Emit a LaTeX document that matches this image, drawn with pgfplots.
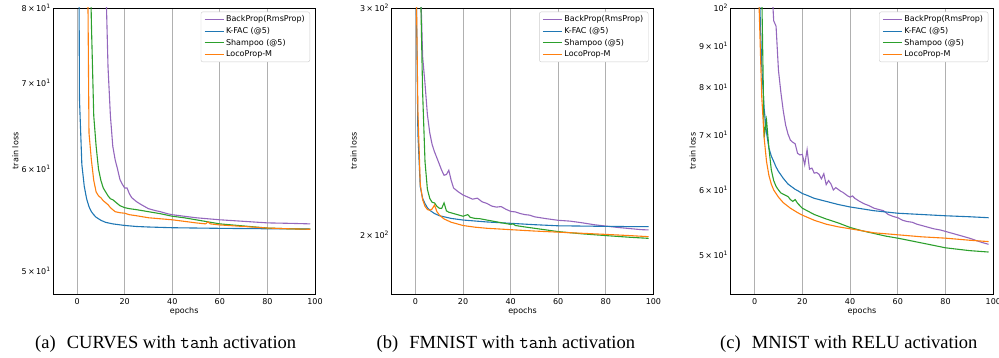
\documentclass[border=0pt]{standalone}
\usepackage{pgfplots}
\pgfplotsset{compat=1.18}
\usepackage{fontspec}
\setmainfont{DejaVu Sans}
\newfontfamily\capfont{Liberation Serif}
\definecolor{cP}{HTML}{9467BD}
\definecolor{cB}{HTML}{1F77B4}
\definecolor{cG}{HTML}{2CA02C}
\definecolor{cO}{HTML}{FF7F0E}
\definecolor{gridc}{RGB}{176,176,176}
\definecolor{legc}{RGB}{204,204,204}
\newcommand\sci[2]{#1\,×\,10\textsuperscript{#2}}
\pgfplotsset{
  myax/.style={
    scale only axis, width=261.7pt, height=286pt,
    anchor=south west,
    xmin=-10, xmax=100,
    xtick={0,20,40,60,80,100},
    xticklabels={0,20,40,60,80,100},
    tick style={draw=none},
    xmajorgrids, major grid style={gridc, line width=0.8pt},
    axis line style={black, line width=0.9pt},
    font=\fontsize{8}{9.6}\selectfont,
    xticklabel style={anchor=center, yshift=-7.7pt},
    yticklabel style={anchor=east, inner sep=0pt, xshift=-2.5pt},
    xlabel={epochs}, ylabel={train loss},
    every axis x label/.style={at={(axis description cs:0.5,-0.062)}, anchor=center},
    every axis y label/.style={at={(axis description cs:-0.1452,0.5)}, anchor=center, rotate=90},
    legend cell align=left,
  },
}
\begin{document}
\begin{tikzpicture}
\useasboundingbox (0,0) rectangle (999pt,358pt);
% ---------------- (a) CURVES
\begin{axis}[ymode=log, myax, at={(53.3pt,64pt)}, ymin=48, ymax=80,
  ytick={50,60,70,80}, yticklabels={\sci{5}{1},\sci{6}{1},\sci{7}{1},\sci{8}{1}},
  legend image code/.code={\draw[#1, line width=1.1pt] (0pt,0pt) -- (19pt,0pt);},
  legend style={at={(1,1)}, anchor=north east, xshift=-5pt, yshift=-3.7pt, draw=legc, fill=white, rounded corners=2pt}]
\addplot[color=cP, line width=1.1pt] coordinates {(11,110)(12,85)(13,72)(14,66)(15,62.5)(16,61)(17,60)(18,58.9)(19,58.4)(20,58.0)(21,58.0)(22,57.4)(23,57.0)(24,56.8)(25,56.6)(27,56.3)(30,55.9)(33,55.7)(35,55.6)(38,55.4)(40,55.3)(45,55.15)(50,55.0)(55,54.9)(60,54.8)(70,54.65)(80,54.5)(90,54.45)(98,54.4)};
\addlegendentry{BackProp(RmsProp)}
\addplot[color=cB, line width=1.1pt] coordinates {(0,200)(1,68)(2,60.5)(3,58.2)(4,56.9)(5,56.1)(6,55.6)(7,55.3)(8,55.05)(10,54.75)(12,54.55)(15,54.4)(20,54.25)(25,54.15)(30,54.1)(40,54.03)(50,54.0)(60,53.97)(70,53.95)(80,53.93)(90,53.92)(98,53.9)};
\addlegendentry{K-FAC (@5)}
\addplot[color=cG, line width=1.1pt] coordinates {(5,100)(6,78)(7,66)(8,62.5)(9,60.0)(10,58.8)(11,58.0)(12,57.6)(13,57.2)(14,56.9)(15,56.8)(16,56.6)(17,56.4)(18,56.2)(20,56.0)(22,55.9)(25,55.8)(30,55.6)(35,55.4)(40,55.15)(45,55.0)(50,54.8)(55,54.6)(60,54.4)(70,54.2)(80,54.0)(90,53.92)(98,53.88)};
\addlegendentry{Shampoo (@5)}
\addplot[color=cO, line width=1.1pt] coordinates {(4,110)(5,64)(6,61)(7,58.8)(8,57.6)(9,57.2)(10,57.0)(11,56.7)(12,56.5)(13,56.3)(14,56.0)(15,55.8)(16,55.6)(18,55.5)(20,55.45)(22,55.3)(25,55.2)(30,55.0)(35,54.9)(40,54.8)(45,54.65)(50,54.5)(54,54.4)(55,54.6)(56,54.4)(60,54.3)(70,54.15)(80,54.0)(90,53.92)(98,53.88)};
\addlegendentry{LocoProp-M}
\end{axis}
% ---------------- (b) FMNIST
\begin{axis}[ymode=log, myax, at={(391.7pt,64pt)}, ymin=180, ymax=300,
  ytick={200,300}, yticklabels={\sci{2}{2},\sci{3}{2}},
  legend image code/.code={\draw[#1, line width=1.1pt] (0pt,0pt) -- (19pt,0pt);},
  legend style={at={(1,1)}, anchor=north east, xshift=-5pt, yshift=-3.7pt, draw=legc, fill=white, rounded corners=2pt}]
\addplot[color=cP, line width=1.1pt] coordinates {(2,320)(3,275)(4,262)(5,248)(6,240)(7,235)(8,232)(9,229.5)(10,227)(11,224.5)(12,222.5)(13,222.8)(14,224.5)(15,220.5)(16,217.5)(18,216)(20,214.8)(22,214)(24,213.2)(26,213.6)(28,212.2)(30,211.6)(32,210.6)(34,210.2)(36,210.4)(38,209.4)(40,208.6)(42,208.4)(44,207.8)(46,207.4)(48,207.2)(50,206.6)(55,205.9)(60,205.3)(65,205.0)(70,204.4)(75,203.7)(80,203.2)(85,202.7)(90,202.3)(95,201.9)(98,201.8)};
\addlegendentry{BackProp(RmsProp)}
\addplot[color=cB, line width=1.1pt] coordinates {(0,350)(1,240)(2,218)(3,213.5)(4,211.5)(5,210)(6,209)(8,207.8)(10,207)(15,206)(20,205.4)(30,204.7)(40,204.2)(50,203.7)(60,203.3)(70,203.2)(80,203.1)(90,203.0)(98,203.0)};
\addlegendentry{K-FAC (@5)}
\addplot[color=cG, line width=1.1pt] coordinates {(2,320)(3,258)(4,228)(5,217)(6,213.5)(7,212)(8,211.8)(9,210.5)(10,209.8)(11,209.7)(12,211.8)(13,208.8)(14,208.3)(16,207.8)(18,207.3)(20,206.8)(22,207.4)(23,206.4)(25,206.0)(27,205.9)(30,205.4)(35,204.6)(40,203.8)(41,204.0)(42,203.4)(45,203.0)(50,202.4)(60,201.2)(70,200.4)(80,199.8)(90,199.2)(98,198.8)};
\addlegendentry{Shampoo (@5)}
\addplot[color=cO, line width=1.1pt] coordinates {(0,350)(1,250)(2,219)(3,213)(4,210.5)(5,209.3)(6,209)(7,209.5)(8,211)(9,208.5)(10,207.3)(12,205.8)(15,204.6)(20,203.4)(25,202.8)(30,202.4)(40,201.9)(50,201.4)(60,201.0)(70,200.6)(80,200.2)(90,199.8)(98,199.4)};
\addlegendentry{LocoProp-M}
\end{axis}
% ---------------- (c) MNIST
\begin{axis}[ymode=log, myax, at={(730.7pt,64pt)}, width=262.6pt, ymin=44.8, ymax=100,
  ytick={50,60,70,80,90,100}, yticklabels={\sci{5}{1},\sci{6}{1},\sci{7}{1},\sci{8}{1},\sci{9}{1},10\textsuperscript{2}},
  legend image code/.code={\draw[#1, line width=1.1pt] (0pt,0pt) -- (19pt,0pt);},
  legend style={at={(1,1)}, anchor=north east, xshift=-5pt, yshift=-3.7pt, draw=legc, fill=white, rounded corners=2pt}]
\addplot[color=cP, line width=1.1pt] coordinates {(7,110)(8,96.5)(9,95)(10,84)(11,79)(12,75)(13,72)(14,70.2)(15,69.0)(16,68.6)(17,68.3)(18,66.5)(19,66.2)(20,66.3)(21,64.4)(22,67.2)(23,63.6)(24,63.8)(25,62.9)(26,63.0)(27,62.7)(28,61.9)(29,62.8)(30,60.9)(31,61.6)(32,61.0)(33,60.0)(34,60.4)(35,60.1)(36,59.8)(37,59.6)(38,59.3)(39,59.0)(40,58.8)(41,59.0)(42,58.6)(44,58.1)(46,57.7)(48,57.4)(50,57.0)(52,56.8)(54,56.6)(56,56.0)(58,55.7)(60,55.5)(62,55.1)(64,54.9)(66,54.8)(68,54.5)(70,54.3)(72,54.1)(75,53.8)(78,53.6)(80,53.4)(85,52.9)(90,52.4)(95,51.8)(98,51.5)};
\addlegendentry{BackProp(RmsProp)}
\addplot[color=cB, line width=1.1pt] coordinates {(2,105)(3,85)(4,75.5)(5,70.5)(6,67.5)(7,66)(8,65)(9,64)(10,63.2)(11,62.6)(12,62.0)(13,61.5)(14,61.0)(15,60.7)(16,60.4)(17,60.1)(18,59.9)(20,59.4)(22,59.1)(25,58.6)(30,58.1)(35,57.6)(40,57.2)(45,56.9)(50,56.6)(60,56.2)(70,56.0)(80,55.8)(90,55.65)(98,55.5)};
\addlegendentry{K-FAC (@5)}
\addplot[color=cG, line width=1.1pt] coordinates {(2,160)(3,105)(4,69.5)(5,73)(6,67.5)(7,63.5)(8,61.6)(9,60.6)(10,60.0)(11,59.5)(12,59.3)(13,59.1)(14,58.9)(15,58.4)(16,58.1)(17,58.4)(18,57.8)(19,57.4)(20,57.0)(22,56.6)(25,56.0)(30,55.3)(35,54.7)(40,54.0)(45,53.5)(50,53.1)(55,52.7)(60,52.4)(70,51.7)(80,51.0)(90,50.6)(98,50.4)};
\addlegendentry{Shampoo (@5)}
\addplot[color=cO, line width=1.1pt] coordinates {(1,130)(2,98)(3,78)(4,69.5)(5,65)(6,62.5)(7,61.0)(8,60.0)(10,58.8)(12,57.9)(15,57.0)(18,56.3)(20,55.9)(25,55.1)(30,54.5)(35,54.1)(40,53.8)(45,53.5)(50,53.2)(60,52.9)(70,52.6)(80,52.4)(90,52.1)(98,51.9)};
\addlegendentry{LocoProp-M}
\end{axis}
% ---------------- captions
\begin{scope}[every node/.style={anchor=base west, inner sep=0pt, font=\capfont\fontsize{18.5}{20}\selectfont}]
\node at (35pt,9.3pt) {(a)\hspace{0.6em}CURVES with \texttt{tanh} activation};
\node at (376.5pt,9.3pt) {(b)\hspace{0.6em}FMNIST with \texttt{tanh} activation};
\node at (720pt,9.3pt) {(c)\hspace{0.6em}MNIST with RELU activation};
\end{scope}
\end{tikzpicture}
\end{document}
